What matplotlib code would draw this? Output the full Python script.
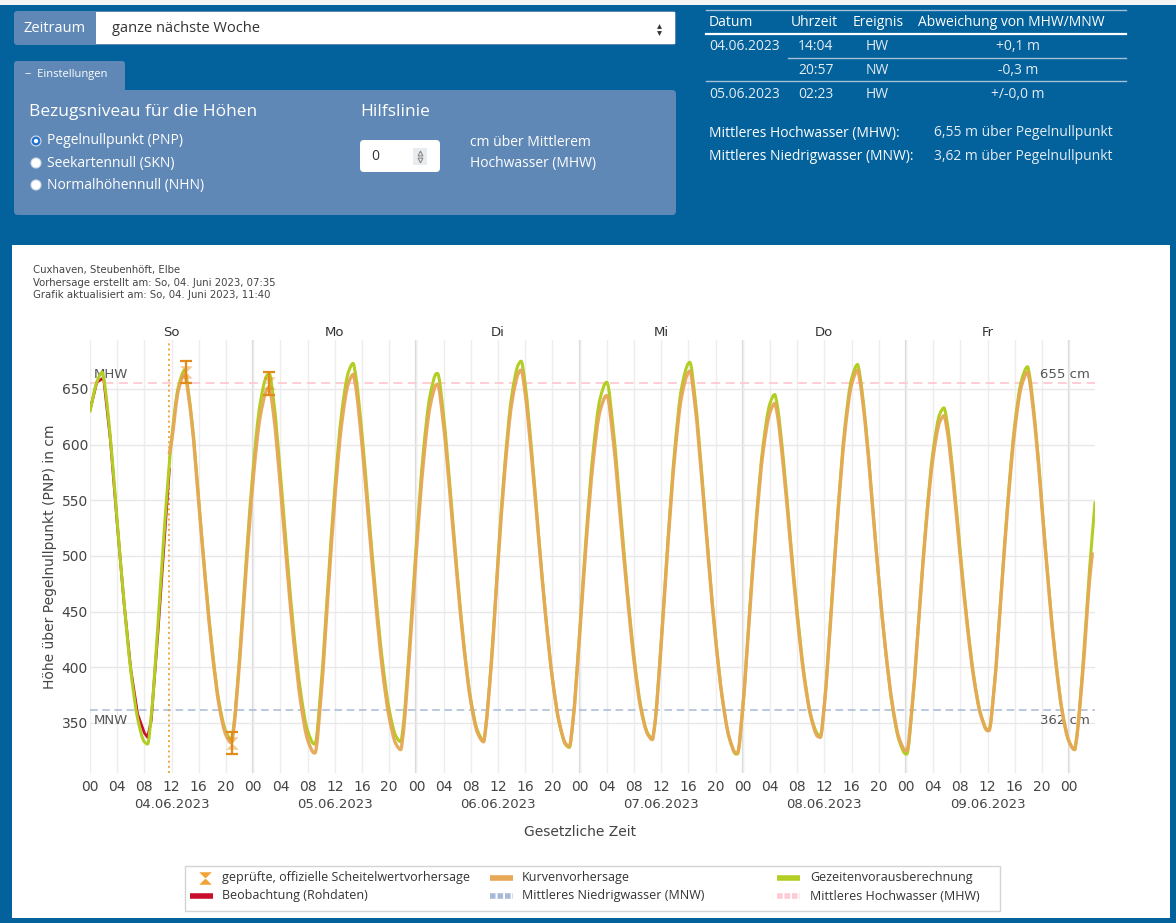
import matplotlib
matplotlib.use("Agg")
import matplotlib.pyplot as plt
from matplotlib.patches import Rectangle, FancyBboxPatch, Circle, PathPatch
from matplotlib.path import Path
from matplotlib.transforms import blended_transform_factory
import numpy as np

# ---- data read from the page ----
day_names = ["So", "Mo", "Di", "Mi", "Do", "Fr"]
day_dates = ["04.06.2023", "05.06.2023", "06.06.2023", "07.06.2023", "08.06.2023", "09.06.2023"]
hour_labels = ["00", "04", "08", "12", "16", "20"]

# hours since 04.06.2023 00:00
gz_hours = list(range(148)) + [147.8]
gezeiten = [630, 656, 660, 606, 531, 459, 397, 354, 333, 356, 439, 530, 605, 652, 666, 621, 550, 478, 415, 368,
            342, 341, 410, 499, 579, 636, 662, 640, 574, 499, 430, 377, 343, 331, 385, 474, 561, 628, 665, 665,
            610, 538, 467, 406, 362, 338, 344, 421, 512, 592, 644, 664, 626, 558, 485, 420, 371, 343, 337, 404,
            497, 582, 643, 672, 654, 591, 517, 448, 390, 350, 330, 350, 431, 521, 594, 641, 656, 611, 542, 471,
            410, 365, 341, 346, 423, 515, 596, 651, 673, 641, 572, 496, 427, 372, 337, 322, 364, 450, 535, 600,
            637, 638, 585, 516, 450, 395, 357, 340, 367, 452, 541, 615, 659, 670, 623, 552, 479, 415, 365, 334,
            322, 370, 453, 534, 595, 628, 622, 569, 503, 441, 391, 358, 344, 384, 467, 551, 618, 658, 668, 619,
            546, 472, 408, 360, 333, 332, 400, 488, 548]
# forecast curve starts at the current time (11:40)
kv_hours = [11.67] + list(range(12, 148)) + [147.4]
kurve = [592, 603, 649, 663, 618, 547, 475, 412, 365,
         339, 338, 405, 491, 569, 624, 649, 627, 562, 488, 421, 368, 335, 323, 376, 465, 551, 618, 655, 655,
         600, 529, 459, 398, 355, 331, 337, 413, 504, 582, 634, 654, 617, 551, 480, 417, 369, 341, 336, 401,
         493, 576, 636, 664, 646, 585, 514, 446, 390, 351, 331, 350, 428, 514, 585, 630, 644, 601, 534, 466,
         406, 363, 340, 345, 420, 511, 590, 643, 665, 634, 567, 493, 425, 372, 337, 323, 364, 447, 530, 594,
         629, 630, 578, 511, 446, 392, 356, 338, 366, 449, 538, 610, 654, 665, 619, 550, 479, 416, 367, 336,
         325, 372, 452, 530, 589, 621, 615, 563, 498, 438, 389, 357, 343, 383, 465, 547, 613, 653, 663, 615,
         543, 470, 406, 359, 333, 332, 395, 478, 502]
# high / low water turning points
ext_hours = [1.8, 8.47, 13.96, 20.8, 26.35, 33.07, 38.7, 45.7, 51.1, 57.9, 63.4, 70.5,
             75.97, 82.7, 88.2, 95.2, 100.7, 107.4, 112.9, 120.1, 125.6, 132.2, 137.9, 144.8]
ext_gezeiten = [665, 331, 667, 335, 664, 331, 673, 333, 664, 334, 675, 328,
                656, 336, 674, 322, 645, 338, 672, 322, 633, 344, 670, 326]
ext_kurve = [664, 332, 651, 323, 663, 326, 654, 333, 667, 329,
             644, 335, 666, 323, 637, 337, 667, 325, 626, 343, 665, 326]  # from 13.96 h on

obs_hours = [0, 1, 2, 3, 4, 5, 6, 7, 8, 8.47, 9, 10, 11, 11.67]
beobachtung = [631, 656, 660, 604, 529, 458, 398, 358, 341, 337, 352, 432, 520, 578]

scheitel_hours = [14.07, 20.95, 26.38]
scheitel_values = [665, 332, 655]
scheitel_err = [10, 10, 10]

now_hour = 11.67
mhw, mnw = 655, 362

table_rows = [["04.06.2023", "14:04", "HW", "+0,1 m"],
              ["", "20:57", "NW", "-0,3 m"],
              ["05.06.2023", "02:23", "HW", "+/-0,0 m"]]

# ---- colours ----
BLUE = "#03629c"
PANEL = "#5f88b6"
GREEN = "#b3cd22"
ORANGE = "#e6a756"
ORANGE_D = "#e28b1c"
RED = "#c8102e"
MNW_C = "#a7b9d8"
MHW_C = "#ffcad3"
GREY = "#555555"
UI = ["Open Sans", "DejaVu Sans"]

W, H = 1176, 923
fig = plt.figure(figsize=(W / 100, H / 100), dpi=100, facecolor=BLUE)
bg = fig.add_axes([0, 0, 1, 1], zorder=0)
bg.set_xlim(0, W)
bg.set_ylim(H, 0)
bg.axis("off")

def rbox(x, y, w, h, color, r=4, **kw):
    bg.add_patch(FancyBboxPatch((x, y), w, h, boxstyle=f"round,pad=0,rounding_size={r}",
                                fc=color, ec=kw.pop("ec", "none"), lw=kw.pop("lw", 0), **kw))

def smooth(x, y):
    # monotone cubic (Fritsch-Carlson) drawn as bezier segments
    x = np.asarray(x, float)
    y = np.asarray(y, float)
    h = np.diff(x)
    d = np.diff(y) / h
    m = np.zeros_like(y)
    m[0], m[-1] = d[0], d[-1]
    for i in range(1, len(x) - 1):
        if d[i - 1] * d[i] > 0:
            w1, w2 = 2 * h[i] + h[i - 1], h[i] + 2 * h[i - 1]
            m[i] = (w1 + w2) / (w1 / d[i - 1] + w2 / d[i])
    verts = [(x[0], y[0])]
    codes = [Path.MOVETO]
    for i in range(len(x) - 1):
        verts += [(x[i] + h[i] / 3, y[i] + m[i] * h[i] / 3),
                  (x[i + 1] - h[i] / 3, y[i + 1] - m[i + 1] * h[i] / 3),
                  (x[i + 1], y[i + 1])]
        codes += [Path.CURVE4] * 3
    return Path(verts, codes)

def add_series(ax, hrs, vals, ehrs, evals, **kw):
    t = np.r_[hrs, ehrs]
    v = np.r_[vals, evals]
    o = np.argsort(t, kind="stable")
    ax.add_patch(PathPatch(smooth(t[o], v[o]), fill=False, capstyle="round",
                           joinstyle="round", **kw))

# top strip and chart container
bg.add_patch(Rectangle((0, 0), W, 5, fc="#f4f4f4", ec="none"))
bg.add_patch(Rectangle((12, 245), 1158, 673, fc="white", ec="none"))

# Zeitraum selector
rbox(14, 11, 662, 34, PANEL, r=3)
bg.add_patch(Rectangle((96, 12), 579, 32, fc="white", ec="none"))
bg.text(55, 29, "Zeitraum", color="white", fontsize=10.5, family=UI, ha="center", va="center")
bg.text(112, 29, "ganze nächste Woche", color="#333333", fontsize=10.5, family=UI, va="center")
bg.plot([659], [25.5], marker="^", ms=3.5, color="#333333", mew=0)
bg.plot([659], [32.5], marker="v", ms=3.5, color="#333333", mew=0)

# Einstellungen panel
rbox(14, 61, 111, 40, PANEL, r=3)
rbox(14, 90, 662, 125, PANEL, r=4)
bg.text(25, 75, "−  Einstellungen", color="white", fontsize=8, family=UI, va="center")
bg.text(29, 112, "Bezugsniveau für die Höhen", color="white", fontsize=12.5, family=UI, va="center")
bg.text(360, 112, "Hilfslinie", color="white", fontsize=12.5, family=UI, va="center")
radios = ["Pegelnullpunkt (PNP)", "Seekartennull (SKN)", "Normalhöhennull (NHN)"]
for i, lab in enumerate(radios):
    yy = 141 + 22 * i
    bg.add_patch(Circle((36, yy), 5, fc="white", ec="#cfd8e3", lw=0.8))
    if i == 0:
        bg.add_patch(Circle((36, yy), 3.3, fc="white", ec="#1f6fd1", lw=1.6))
    bg.text(47, yy, lab, color="white", fontsize=10, family=UI, va="center")
rbox(360, 140, 80, 32, "white", r=4)
bg.text(371, 157, "0", color="#333333", fontsize=10, family=UI, va="center")
bg.add_patch(Rectangle((413, 148), 14, 17, fc="#e9ecef", ec="none"))
bg.plot([420], [153], marker="^", ms=3.5, mfc="none", mec="#888888", mew=0.8)
bg.plot([420], [160], marker="v", ms=3.5, mfc="none", mec="#888888", mew=0.8)
bg.text(470, 142, "cm über Mittlerem", color="white", fontsize=10, family=UI, va="center")
bg.text(470, 164, "Hochwasser (MHW)", color="white", fontsize=10, family=UI, va="center")

# event table
LINE = "#a3bfd9"
BODY = "#e4ecf4"
bg.plot([706, 1126], [10, 10], color=LINE, lw=1)
bg.plot([706, 1126], [34, 34], color="white", lw=1.6)
bg.plot([788, 1126], [58, 58], color=LINE, lw=1)
bg.plot([706, 1126], [81, 81], color=LINE, lw=1)
for x, lab in zip([709, 791, 853, 918], ["Datum", "Uhrzeit", "Ereignis", "Abweichung von MHW/MNW"]):
    bg.text(x, 22, lab, color="white", fontsize=10, family=UI, va="center")
for yy, row in zip([47, 71, 95], table_rows):
    bg.text(709, yy, row[0], color=BODY, fontsize=10, family=UI, va="center")
    bg.text(798, yy, row[1], color=BODY, fontsize=10, family=UI, va="center")
    bg.text(866, yy, row[2], color=BODY, fontsize=10, family=UI, va="center")
    bg.text(1018, yy, row[3], color=BODY, fontsize=10, family=UI, va="center", ha="center")
bg.text(709, 133, "Mittleres Hochwasser (MHW):", color="white", fontsize=10, family=UI, va="center")
bg.text(934, 133, "6,55 m über Pegelnullpunkt", color=BODY, fontsize=10, family=UI, va="center")
bg.text(709, 156, "Mittleres Niedrigwasser (MNW):", color="white", fontsize=10, family=UI, va="center")
bg.text(934, 156, "3,62 m über Pegelnullpunkt", color=BODY, fontsize=10, family=UI, va="center")

# chart header
for i, line in enumerate(["Cuxhaven, Steubenhöft, Elbe",
                          "Vorhersage erstellt am: So, 04. Juni 2023, 07:35",
                          "Grafik aktualisiert am: So, 04. Juni 2023, 11:40"]):
    bg.text(33, 270 + 12.5 * i, line, color="#444444", fontsize=7.3, va="center")

# ---- chart ----
ax = fig.add_axes([90 / W, 1 - 773 / H, (1095 - 90) / W, (773 - 340) / H], zorder=1)
ax.patch.set_alpha(0)
ax.set_xlim(0, 147.8)
ax.set_ylim(305, 694)
for s in ax.spines.values():
    s.set_visible(False)

ax.set_yticks(range(350, 651, 50))
ax.set_xticks(np.arange(0, 145, 4))
ax.set_xticklabels(hour_labels * 6 + ["00"])
ax.grid(axis="y", color="#e8e8e8", lw=1)
ax.grid(axis="x", color="#ededed", lw=1)
for d in range(1, 7):
    ax.axvline(24 * d, color="#d9d9d9", lw=1.6, zorder=1)
ax.tick_params(length=0, labelsize=10, labelcolor="#444444")
ax.tick_params(axis="x", pad=5)
ax.tick_params(axis="y", pad=1.5)

ax.axhline(mhw, color=MHW_C, lw=1.3, ls=(0, (5, 3)), zorder=2)
ax.axhline(mnw, color=MNW_C, lw=1.1, ls=(0, (5, 3)), zorder=2)
ax.axvline(now_hour, color="#f0a646", lw=1.4, ls=":", zorder=2)

ax.plot(obs_hours, beobachtung, color=RED, lw=2.0, zorder=3, solid_joinstyle="round")
add_series(ax, gz_hours, gezeiten, ext_hours, ext_gezeiten, ec=GREEN, lw=2.2, zorder=4)
add_series(ax, kv_hours, kurve, ext_hours[2:], ext_kurve, ec=ORANGE, lw=2.4, alpha=0.95, zorder=5)

hourglass = [(-1, 1), (1, 1), (-1, -1), (1, -1), (-1, 1)]
ax.errorbar(scheitel_hours, scheitel_values, yerr=scheitel_err, fmt="none", ecolor=ORANGE_D,
            elinewidth=1.6, capsize=4.5, capthick=1.6, zorder=6)
ax.plot(scheitel_hours, scheitel_values, ls="none", marker=hourglass, ms=9, color=ORANGE_D,
        alpha=0.45, mew=0, zorder=6)

ax.annotate("MHW", (0, mhw), xytext=(3, 2), textcoords="offset points", fontsize=9.5,
            color=GREY, va="bottom")
ax.annotate("MNW", (0, mnw), xytext=(3, -3), textcoords="offset points", fontsize=9.5,
            color=GREY, va="top")
ax.annotate(f"{mhw} cm", (147.8, mhw), xytext=(-4, 2), textcoords="offset points", fontsize=9.5,
            color=GREY, va="bottom", ha="right")
ax.annotate(f"{mnw} cm", (147.8, mnw), xytext=(-4, -3), textcoords="offset points", fontsize=9.5,
            color=GREY, va="top", ha="right")

tr = blended_transform_factory(ax.transData, ax.transAxes)
for d, (nm, dt) in enumerate(zip(day_names, day_dates)):
    ax.text(12 + 24 * d, 1 + 7 / 433, nm, transform=tr, ha="center", va="center",
            fontsize=9.5, color="#333333")
    ax.text(12 + 24 * d, -31 / 433, dt, transform=tr, ha="center", va="center",
            fontsize=9.5, color="#444444")

ax.set_xlabel("Gesetzliche Zeit", fontsize=10, color="#444444", va="center")
ax.xaxis.set_label_coords((580 - 90) / 1005, -(832 - 773) / 433)
ax.set_ylabel("Höhe über Pegelnullpunkt (PNP) in cm", fontsize=10, color="#444444", va="center")
ax.yaxis.set_label_coords(-(90 - 50) / 1005, 0.5)

# ---- legend ----
bg.add_patch(Rectangle((185, 866), 815, 45, fc="white", ec="#d4d4d4", lw=1))
bg.plot([205], [878], marker=hourglass, ms=9, color="#f0a232", mew=0)
bg.plot([490, 513], [878, 878], color=ORANGE, lw=4, solid_capstyle="butt")
bg.plot([777, 800], [878, 878], color=GREEN, lw=4, solid_capstyle="butt")
bg.plot([190, 213], [896, 896], color=RED, lw=4, solid_capstyle="butt")
bg.plot([490, 513], [896, 896], color=MNW_C, lw=4, ls=(0, (1, 0.35)), dash_capstyle="butt")
bg.plot([777, 800], [896, 896], color=MHW_C, lw=4, ls=(0, (1, 0.35)), dash_capstyle="butt")
for x, yy, lab in [(222, 878, "geprüfte, offizielle Scheitelwertvorhersage"),
                   (522, 878, "Kurvenvorhersage"),
                   (810, 878, "Gezeitenvorausberechnung"),
                   (222, 896, "Beobachtung (Rohdaten)"),
                   (522, 896, "Mittleres Niedrigwasser (MNW)"),
                   (810, 896, "Mittleres Hochwasser (MHW)")]:
    bg.text(x, yy, lab, fontsize=9, family=UI, color="#333333", va="center")

fig.savefig("out.png", dpi=100, facecolor=BLUE)
